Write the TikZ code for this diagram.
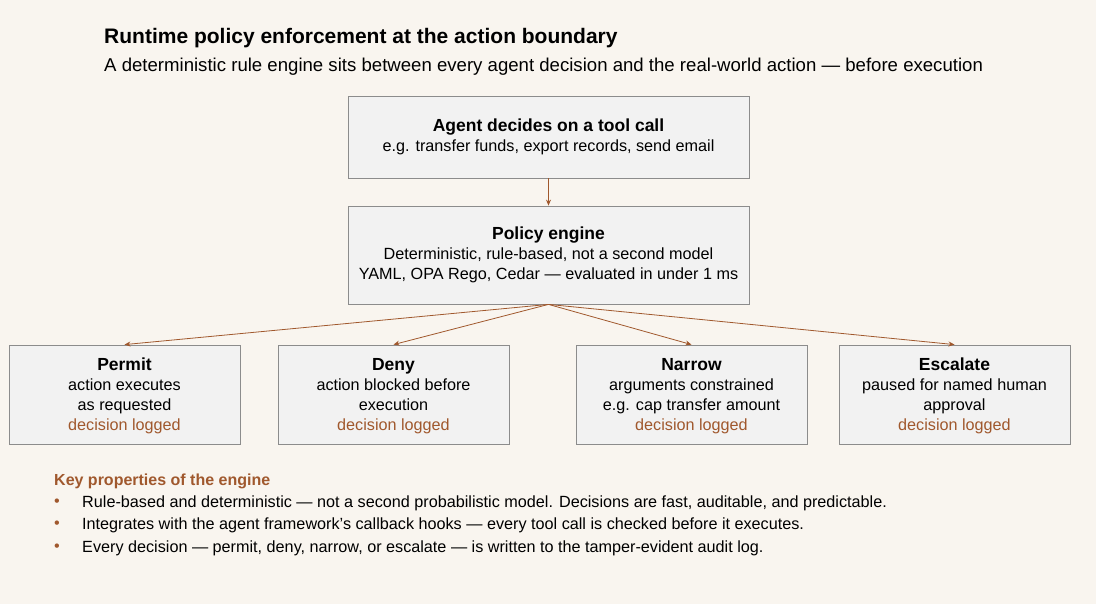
\documentclass[tikz,border=0pt]{standalone}
\usepackage{fontspec}
\setmainfont{Liberation Sans}
\usetikzlibrary{arrows.meta}
\definecolor{bg}{HTML}{F9F5EF}
\definecolor{boxf}{HTML}{F2F2F2}
\definecolor{boxd}{HTML}{8C8C8C}
\definecolor{br}{HTML}{A0582D}
\begin{document}
\begin{tikzpicture}[x=1pt,y=-1pt,
  box/.style={draw=boxd,fill=boxf,line width=0.8pt},
  lbl/.style={align=center,font=\fontsize{16.2}{19.8}\selectfont},
  arr/.style={draw=br,line width=0.8pt,-{Stealth[length=6pt,width=5pt]}},
  bul/.style={anchor=west,inner sep=0pt,font=\fontsize{16.2}{18}\selectfont}]
\fill[bg] (0,0) rectangle (1096,604);
\useasboundingbox (0,0) rectangle (1096,604);
\node[anchor=west,inner sep=0pt,font=\bfseries\fontsize{21}{24}\selectfont] (title) at (104,38) {Runtime policy enforcement at the action boundary};
\node[anchor=west,inner sep=0pt,font=\fontsize{18.6}{22}\selectfont] (sub) at (104,67) {A deterministic rule engine sits between every agent decision and the real-world action — before execution};
\node[box,minimum width=401pt,minimum height=82pt] (agent) at (548.5,137) {};
\node[lbl] (agentt) at (548.5,137) {{\bfseries\fontsize{17.5}{21}\selectfont Agent decides on a tool call}\\e.g. transfer funds, export records, send email};
\node[box,minimum width=401pt,minimum height=98pt] (pol) at (548.5,255) {};
\node[lbl] (polt) at (548.5,255) {{\bfseries\fontsize{17.5}{21}\selectfont Policy engine}\\Deterministic, rule-based, not a second model\\YAML, OPA Rego, Cedar — evaluated in under 1 ms};
\draw[arr] (agent.south) -- (pol.north);
\foreach \n/\x/\t/\a/\b in {perm/124.5/Permit/action executes/as requested,deny/393.5/Deny/action blocked before/execution,narr/691.5/Narrow/arguments constrained/e.g. cap transfer amount,esc/954.5/Escalate/paused for named human/approval}{
  \node[box,minimum width=231pt,minimum height=99pt] (\n) at (\x,394.5) {};
  \node[lbl] (\n t) at (\x,396) {{\bfseries\fontsize{17.5}{21}\selectfont \t}\\\a\\\b\\\textcolor{br}{decision logged}};
  \draw[arr] (pol.south) -- (\n.north);
}
\node[anchor=west,inner sep=0pt,text=br,font=\bfseries\fontsize{16}{18}\selectfont] (kp) at (54,481) {Key properties of the engine};
\foreach \i/\y/\t in {1/503/{Rule-based and deterministic — not a second probabilistic model. Decisions are fast, auditable, and predictable.},2/525/{Integrates with the agent framework's callback hooks — every tool call is checked before it executes.},3/548/{Every decision — permit, deny, narrow, or escalate — is written to the tamper-evident audit log.}}{
  \node[bul,text=br] (d\i) at (54,\y) {•};
  \node[bul] (b\i) at (82,\y) {\t};
}
\end{tikzpicture}
\end{document}
